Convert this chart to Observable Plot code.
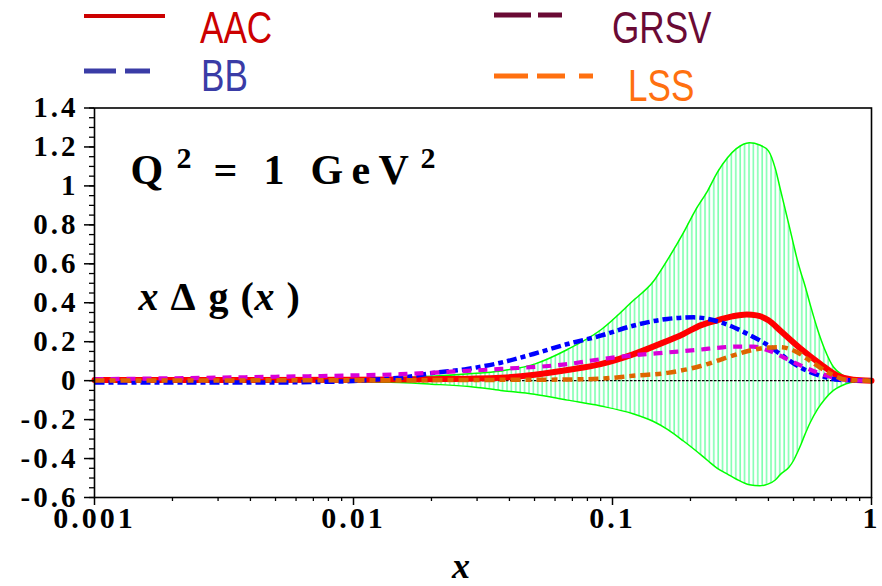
<!DOCTYPE html>
<html><head><meta charset="utf-8">
<script src="https://cdn.jsdelivr.net/npm/d3@7"></script>
<script src="https://cdn.jsdelivr.net/npm/@observablehq/plot@0.6"></script>
<style>
body{margin:0;background:#fff;}
#wrap{position:relative;width:882px;height:586px;overflow:hidden;}
#legend{position:absolute;left:0;top:0;overflow:visible;}
</style></head><body><div id="wrap"></div>
<script>
// ---- data ----
const bandX  = [0.001, 0.003, 0.01, 0.015, 0.02, 0.028, 0.037, 0.05, 0.067, 0.09, 0.12, 0.144, 0.163, 0.188, 0.21, 0.233, 0.254, 0.278, 0.3, 0.338, 0.37, 0.4, 0.425, 0.446, 0.48, 0.5, 0.517, 0.535, 0.55, 0.58, 0.62, 0.66, 0.713, 0.77, 0.83, 0.9, 1];
const bandHi = [0.002, 0.004, 0.01, 0.015, 0.022, 0.035, 0.05, 0.085, 0.16, 0.26, 0.41, 0.51, 0.62, 0.76, 0.88, 0.975, 1.07, 1.145, 1.19, 1.222, 1.21, 1.18, 1.09, 0.975, 0.8, 0.7, 0.62, 0.55, 0.5, 0.39, 0.26, 0.16, 0.07, 0.03, 0.012, 0.004, 0];
const bandLo = [-0.002, -0.003, -0.006, -0.01, -0.018, -0.03, -0.05, -0.07, -0.1, -0.13, -0.17, -0.21, -0.25, -0.31, -0.36, -0.41, -0.45, -0.48, -0.505, -0.535, -0.54, -0.53, -0.51, -0.48, -0.445, -0.41, -0.37, -0.325, -0.285, -0.215, -0.145, -0.095, -0.05, -0.025, -0.01, -0.003, 0];

const aacX = [0.001, 0.01, 0.02, 0.037, 0.05, 0.067, 0.09, 0.12, 0.15, 0.188, 0.22, 0.254, 0.29, 0.33, 0.36, 0.4, 0.446, 0.532, 0.636, 0.74, 0.85, 1];
const aacY = [0.003, 0.004, 0.007, 0.015, 0.03, 0.055, 0.085, 0.135, 0.185, 0.24, 0.285, 0.31, 0.33, 0.34, 0.335, 0.31, 0.255, 0.165, 0.085, 0.025, 0.005, 0];

const bbX = [0.001, 0.004, 0.007, 0.01, 0.013, 0.0152, 0.0204, 0.0275, 0.037, 0.0495, 0.067, 0.09, 0.12, 0.163, 0.206, 0.261, 0.332, 0.4, 0.446, 0.532, 0.636, 0.75, 1];
const bbY = [-0.01, -0.01, -0.007, -0.002, 0.008, 0.015, 0.04, 0.06, 0.092, 0.137, 0.188, 0.231, 0.282, 0.317, 0.325, 0.3, 0.24, 0.18, 0.135, 0.067, 0.025, 0.004, 0];

const grsvX = [0.001, 0.005, 0.01, 0.0152, 0.023, 0.037, 0.067, 0.09, 0.12, 0.163, 0.22, 0.26, 0.3, 0.35, 0.4, 0.457, 0.5, 0.55, 0.6, 0.676, 0.8, 1];
const grsvY = [0.007, 0.02, 0.027, 0.033, 0.045, 0.06, 0.085, 0.11, 0.13, 0.145, 0.16, 0.17, 0.175, 0.175, 0.155, 0.12, 0.095, 0.07, 0.048, 0.025, 0.004, 0];

const lssX = [0.001, 0.01, 0.037, 0.067, 0.09, 0.12, 0.163, 0.219, 0.293, 0.34, 0.4, 0.446, 0.5, 0.597, 0.695, 0.798, 1];
const lssY = [0.001, 0.002, 0.004, 0.006, 0.01, 0.025, 0.04, 0.075, 0.13, 0.155, 0.17, 0.172, 0.155, 0.09, 0.035, 0.005, 0];

const yTicks = [-0.6, -0.4, -0.2, 0, 0.2, 0.4, 0.6, 0.8, 1, 1.2, 1.4];
const yTickLabels = ["-0.6", "-0.4", "-0.2", "0", "0.2", "0.4", "0.6", "0.8", "1", "1.2", "1.4"];
const yMinor = d3.range(-0.6, 1.4001, 0.05).map(v => +v.toFixed(2));
const xTicks = [0.001, 0.01, 0.1, 1];
const xTickLabels = ["0.001", "0.01", "0.1", "1"];
const xMinor = [0.001, 0.01, 0.1].flatMap(d => d3.range(2, 10).map(k => +(d * k).toPrecision(3)));

const seriesNames = ["AAC", "GRSV", "BB", "LSS"];
const legendColors = ["#cc0000", "#6a0a35", "#3a3ca6", "#ff7010"];

// ---- tables ----
const band = bandX.map((x, i) => ({x, hi: bandHi[i], lo: bandLo[i]}));
const zip = (xs, ys) => xs.map((x, i) => ({x, y: ys[i]}));
const aac = zip(aacX, aacY), bb = zip(bbX, bbY), grsv = zip(grsvX, grsvY), lss = zip(lssX, lssY);

const serif = "Liberation Serif, Times New Roman, serif";
const fmtY = d => yTickLabels[yTicks.findIndex(t => Math.abs(t - d) < 1e-9)];
const fmtX = d => xTickLabels[xTicks.findIndex(t => Math.abs(t - d) < 1e-12)];
const ann = (s, dx, dy, size, style = "normal") => Plot.text([s], {frameAnchor: "top-left", dx, dy, textAnchor: "start", lineAnchor: "bottom", fontSize: size, fontWeight: "bold", fontStyle: style, fontFamily: serif, fill: "black"});
const dashed = (data, stroke, width, dash) => Plot.line(data, {x: "x", y: "y", stroke, strokeWidth: width, strokeDasharray: dash, strokeLinecap: "butt", curve: "monotone-x"});

const svg = Plot.plot({
  width: 882, height: 586,
  marginTop: 107.5, marginBottom: 89, marginLeft: 94, marginRight: 11,
  x: {type: "log", domain: [0.001, 1]},
  y: {domain: [-0.6, 1.4]},
  style: {fontFamily: serif, background: "white", overflow: "visible"},
  marks: [
    Plot.areaY(band, {x: "x", y1: "lo", y2: "hi", fill: "url(#hatch)", curve: "monotone-x"}),
    Plot.line(band, {x: "x", y: "hi", stroke: "#00ff00", strokeWidth: 1.5, curve: "monotone-x"}),
    Plot.line(band, {x: "x", y: "lo", stroke: "#00ff00", strokeWidth: 1.5, curve: "monotone-x"}),
    Plot.ruleY([0], {stroke: "black", strokeWidth: 1.2, strokeDasharray: "2.5,1.5"}),
    Plot.line(aac, {x: "x", y: "y", stroke: "#ff0000", strokeWidth: 6, curve: "monotone-x"}),
    dashed(bb, "#0000ff", 4.5, "10,4,5,4"),
    dashed(grsv, "#d800d8", 4.2, "9,7"),
    dashed(lss, "#dd6600", 4.5, "10,5,6,5"),
    Plot.frame({stroke: "black", strokeWidth: 1.6}),
    Plot.axisY(yMinor, {tickSize: 5, tickFormat: () => "", label: null, strokeWidth: 1.3}),
    Plot.axisY(yTicks, {tickSize: 10, tickPadding: 6, tickFormat: fmtY, label: null, fontSize: 29, fontWeight: "bold", fontFamily: serif, strokeWidth: 1.5}),
    Plot.axisX(xMinor, {tickSize: 4, tickFormat: () => "", label: null, strokeWidth: 1.3}),
    Plot.axisX(xTicks, {tickSize: 8, tickPadding: 1, tickFormat: fmtX, label: null, fontSize: 30, fontWeight: "bold", fontFamily: serif, strokeWidth: 1.5}),
    // annotation  Q^2 = 1 GeV^2
    ann("Q", 36, 75.5, 42),
    ann("2", 82, 59.5, 30),
    ann("=", 119, 75.5, 42),
    ann("1", 169, 75.5, 42),
    ann("G", 216, 75.5, 42),
    ann("e", 257, 75.5, 42),
    ann("V", 284, 75.5, 42),
    ann("2", 326, 59.5, 30),
    // annotation x Δ g ( x )
    ann("x", 44, 201.5, 40, "italic"),
    ann("Δ", 76, 201.5, 40),
    ann("g", 114, 201.5, 40),
    ann("(", 146, 201.5, 40),
    ann("x", 160, 201.5, 40, "italic"),
    ann(")", 192, 201.5, 40),
    // axis title
    Plot.text(["x"], {frameAnchor: "bottom", dx: -22, dy: 80, lineAnchor: "bottom", fontSize: 36, fontWeight: "bold", fontStyle: "italic", fontFamily: serif, fill: "black"})
  ]
});

// hatch pattern for the uncertainty band
const defs = d3.select(svg).insert("defs", ":first-child");
const pat = defs.append("pattern").attr("id", "hatch").attr("patternUnits", "userSpaceOnUse").attr("width", 4.4).attr("height", 8);
pat.append("rect").attr("width", 4.4).attr("height", 8).attr("fill", "white");
pat.append("line").attr("x1", 1).attr("x2", 1).attr("y1", 0).attr("y2", 8).attr("stroke", "#80ffb0").attr("stroke-width", 1.6);

d3.select(svg).selectAll('g[aria-label="y-axis tick label"] text, g[aria-label="x-axis tick label"] text').style("letter-spacing", "3px");

const wrap = document.getElementById("wrap");
wrap.appendChild(svg);

// legend overlay (above the frame)
const L = d3.select(wrap).append("svg").attr("id", "legend").attr("width", 882).attr("height", 106);
const legendLayout = [
  {lx: [84, 165], ly: 16, dash: null, sw: 4, tx: 200, ty: 43},
  {lx: [494, 562], ly: 15, dash: "37,7", sw: 5, tx: 612, ty: 43},
  {lx: [84, 150], ly: 71, dash: "32,9", sw: 5, tx: 201, ty: 91},
  {lx: [494, 593], ly: 76, dash: "34,9,28,14", sw: 5, tx: 628, ty: 101}
];
seriesNames.forEach((name, i) => {
  const p = legendLayout[i];
  const ln = L.append("line").attr("x1", p.lx[0]).attr("x2", p.lx[1]).attr("y1", p.ly).attr("y2", p.ly)
    .attr("stroke", legendColors[i]).attr("stroke-width", p.sw);
  if (p.dash) ln.attr("stroke-dasharray", p.dash);
  L.append("text").attr("transform", `translate(${p.tx},${p.ty}) scale(0.78,1)`)
    .attr("font-family", "Liberation Sans, Arial, sans-serif").attr("font-size", 45)
    .attr("fill", legendColors[i]).text(name);
});
</script>
</body></html>
